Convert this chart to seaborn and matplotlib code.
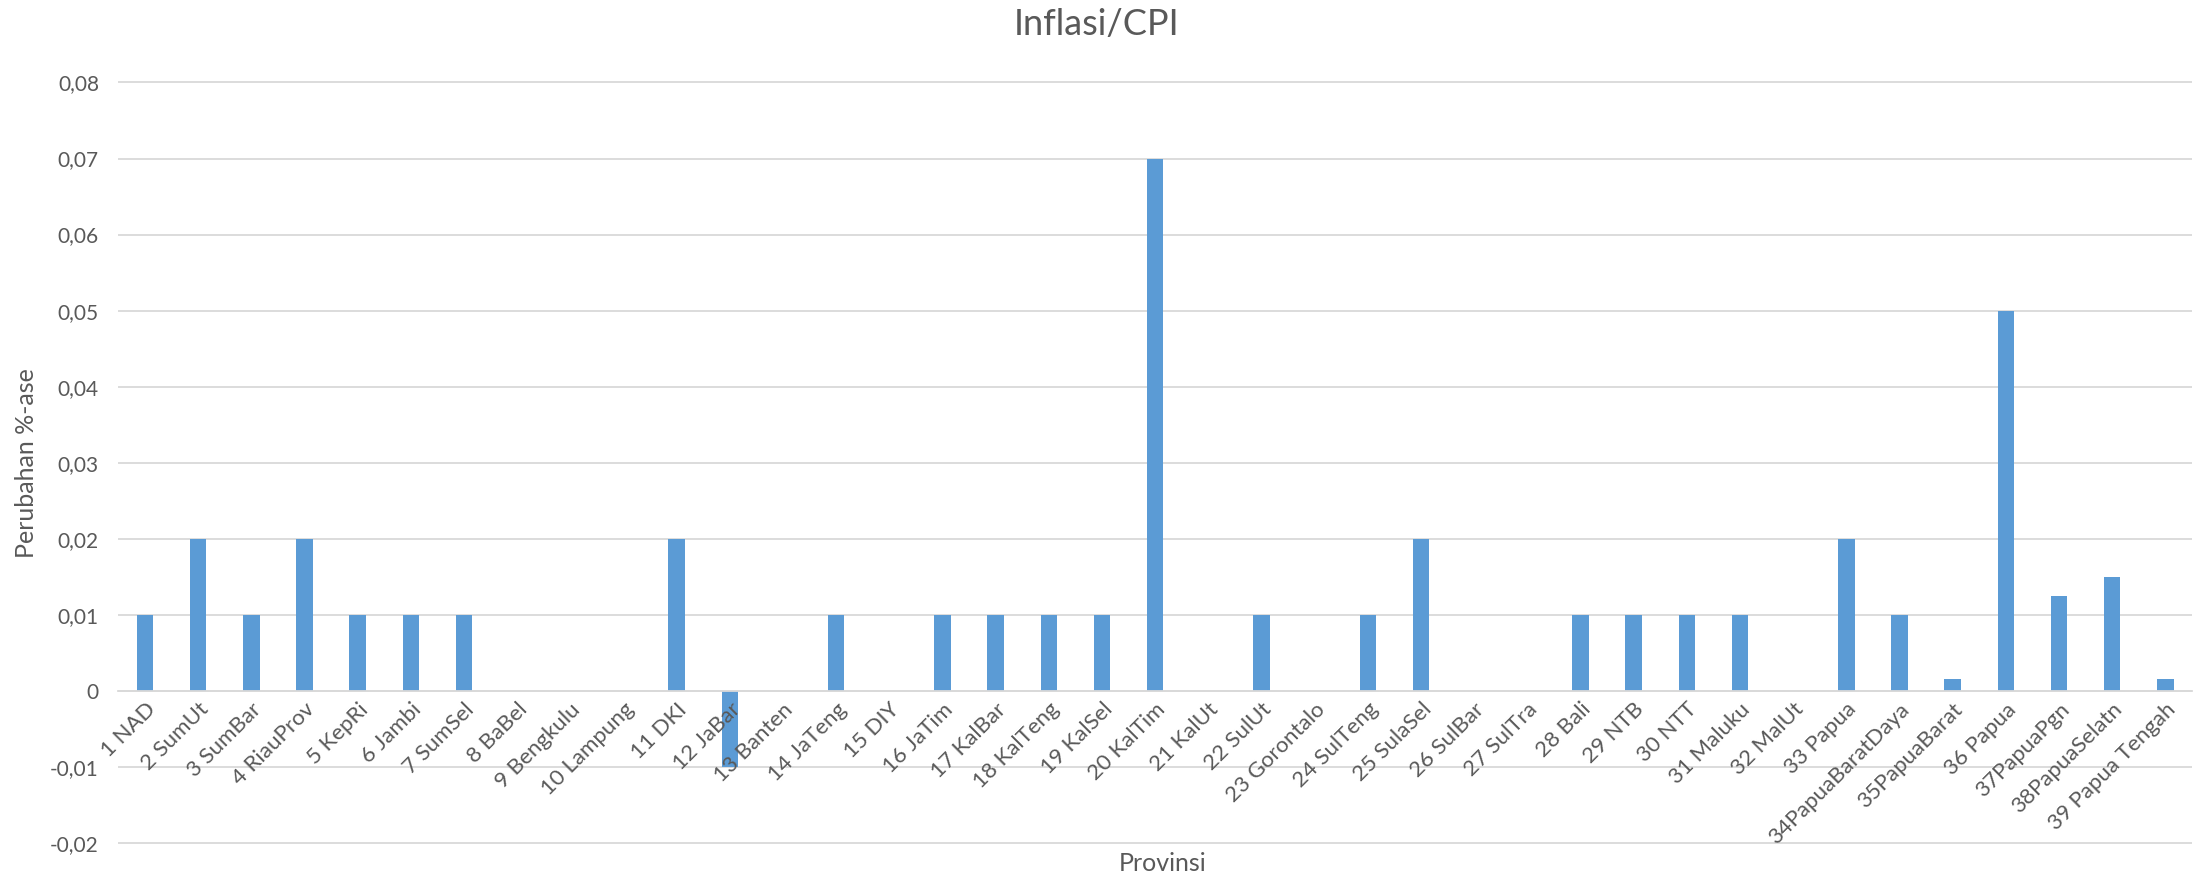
import matplotlib
matplotlib.use("Agg")
import matplotlib.pyplot as plt
import seaborn as sns
import numpy as np
from matplotlib.ticker import FuncFormatter, MultipleLocator

# data
provinsi = ["1 NAD", "2 SumUt", "3 SumBar", "4 RiauProv", "5 KepRi", "6 Jambi",
            "7 SumSel", "8 BaBel", "9 Bengkulu", "10 Lampung", "11 DKI", "12 JaBar",
            "13 Banten", "14 JaTeng", "15 DIY", "16 JaTim", "17 KalBar", "18 KalTeng",
            "19 KalSel", "20 KalTim", "21 KalUt", "22 SulUt", "23 Gorontalo",
            "24 SulTeng", "25 SulaSel", "26 SulBar", "27 SulTra", "28 Bali", "29 NTB",
            "30 NTT", "31 Maluku", "32 MalUt", "33 Papua", "34PapuaBaratDaya",
            "35PapuaBarat", "36 Papua", "37PapuaPgn", "38PapuaSelatn", "39 Papua Tengah"]
inflasi = [0.01, 0.02, 0.01, 0.02, 0.01, 0.01, 0.01, 0, 0, 0, 0.02, -0.01,
           0, 0.01, 0, 0.01, 0.01, 0.01, 0.01, 0.07, 0, 0.01, 0, 0.01, 0.02,
           0, 0, 0.01, 0.01, 0.01, 0.01, 0, 0.02, 0.01, 0.0015, 0.05, 0.0125,
           0.015, 0.0015]

sns.set_style("white")
plt.rcParams['font.family'] = ['Lato', 'DejaVu Sans']
txt = "#595959"

fig = plt.figure(figsize=(21.93, 8.82), dpi=100)
ax = fig.add_axes([0.054, 0.0442, 0.9455, 0.8623])

sns.barplot(x=provinsi, y=inflasi, color="#5B9BD5", saturation=1, width=0.31,
            linewidth=0, ax=ax)

ax.set_ylim(-0.02, 0.08)
ax.set_xlim(-0.5, len(provinsi) - 0.5)
ax.yaxis.set_major_locator(MultipleLocator(0.01))


def komma(v, pos):
    if abs(v) < 1e-9:
        return "0"
    return f"{v:.2f}".replace(".", ",")


ax.yaxis.set_major_formatter(FuncFormatter(komma))

# gridlines behind the bars, tick labels on top of them (like Excel)
ax.grid(False)
ax.set_axisbelow(False)
yt = [t for t in ax.get_yticks() if -0.02 - 1e-9 <= t <= 0.08 + 1e-9]
ax.hlines(yt, -0.5, len(provinsi) - 0.5, colors="#D9D9D9", lw=1.3, zorder=0,
          clip_on=False)

for s in ["top", "right", "left"]:
    ax.spines[s].set_visible(False)
ax.spines["bottom"].set_position(("data", 0))
ax.spines["bottom"].set_color("#D9D9D9")
ax.spines["bottom"].set_linewidth(1.3)

ax.tick_params(axis="y", length=0, colors=txt, labelsize=15, pad=14)
ax.tick_params(axis="x", length=0, colors=txt, labelsize=16, pad=6)
plt.setp(ax.get_xticklabels(), rotation=45, ha="right", rotation_mode="anchor")

ax.set_xlabel("")
ax.set_ylabel("Perubahan %-ase", fontsize=18, color=txt)
ax.yaxis.set_label_coords(-0.039, 0.5)
fig.text(0.53, 0.008, "Provinsi", ha="center", va="bottom", fontsize=18, color=txt)
fig.text(0.5, 0.972, "Inflasi/CPI", ha="center", va="center", fontsize=26, color=txt)

fig.savefig("out.png", dpi=100, facecolor="white")
